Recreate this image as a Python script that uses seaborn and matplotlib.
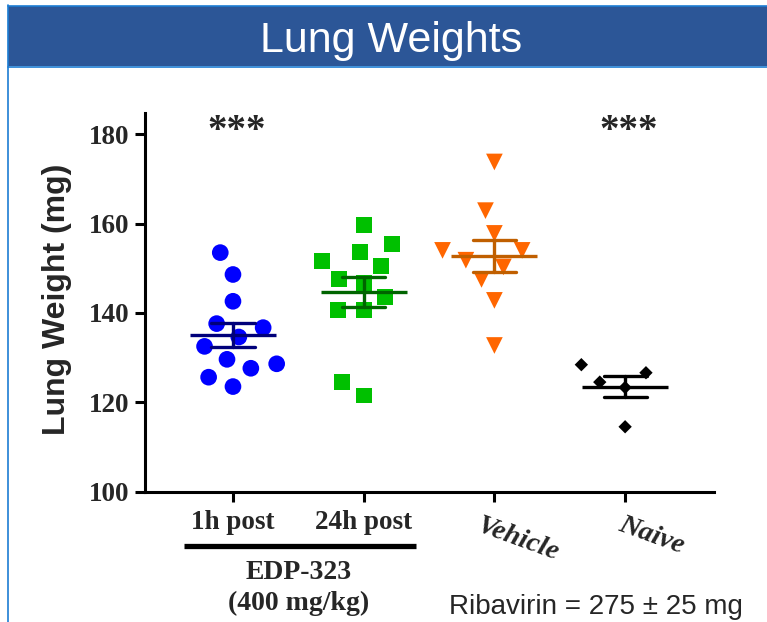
import matplotlib
matplotlib.use("Agg")
import matplotlib.pyplot as plt
from matplotlib.patches import Rectangle
from matplotlib.lines import Line2D
import numpy as np
import pandas as pd
import seaborn as sns

# ---------------- data ----------------
groups = ["1h post", "24h post", "Vehicle", "Naive"]
edp_1h = [153.5, 148.6, 142.6, 137.6, 136.7, 134.6, 132.5, 129.6, 128.6, 127.6, 125.6, 123.5]
edp_24h = [159.6, 155.5, 153.6, 151.6, 150.6, 147.5, 146.6, 143.5, 140.6, 140.6, 124.5, 121.5]
vehicle = [173.8, 162.9, 157.8, 154.0, 154.0, 151.8, 150.3, 147.5, 142.8, 132.7]
naive = [128.4, 126.6, 124.5, 123.3, 114.5]
yticks = [100, 120, 140, 160, 180]
title = "Lung Weights"
ylabel = "Lung Weight (mg)"
group_caption = ["EDP-323", "(400 mg/kg)"]
note = "Ribavirin = 275 \u00b1 25 mg"
signif = {"1h post": "***", "Naive": "***"}

values = [edp_1h, edp_24h, vehicle, naive]
df = pd.DataFrame({
    "group": np.repeat(groups, [len(v) for v in values]),
    "weight": np.concatenate(values),
})

point_colors = ["#0000FF", "#00C000", "#FF6600", "#000000"]
line_colors = ["#00007A", "#006400", "#C05F00", "#000000"]
markers = ["o", "s", "v", "D"]
sizes = [12, 11.5, 12, 6.8]
# invisible edge width: widens the swarm spacing without enlarging the marks
spread = [6, 6, 5.5, 11]

sns.set_theme(style="ticks")
plt.rcParams["font.family"] = ["Liberation Sans", "DejaVu Sans"]

W, H = 767, 622
fig = plt.figure(figsize=(W / 100, H / 100), dpi=100)
fig.patch.set_facecolor("white")

# banner
fig.add_artist(Rectangle((8 / W, (H - 66) / H), 1 - 8 / W, 60 / H,
                         transform=fig.transFigure, facecolor="#2C5697",
                         edgecolor="none", zorder=0))
border = "#1C7DD3"
fig.add_artist(Line2D([8 / W, 1], [1 - 5.5 / H, 1 - 5.5 / H], transform=fig.transFigure,
                      color=border, lw=1.2))
fig.add_artist(Line2D([8 / W, 1], [1 - 66.5 / H, 1 - 66.5 / H], transform=fig.transFigure,
                      color=border, lw=1.2))
fig.add_artist(Line2D([8 / W, 8 / W], [0, 1 - 5 / H], transform=fig.transFigure,
                      color=border, lw=1.2))
fig.text(391 / W, 1 - 41 / H, title, color="white", fontsize=31,
         family="Liberation Sans", ha="center", va="center")

ax = fig.add_axes([145 / W, (H - 491.5) / H, (714 - 145) / W, (491.5 - 113.3) / H])

for g, c, m, s, lw in zip(groups, point_colors, markers, sizes, spread):
    sns.swarmplot(data=df[df["group"] == g], x="group", y="weight", order=groups,
                  color=c, marker=m, size=s, linewidth=lw, edgecolor="none",
                  ax=ax, zorder=2)

sns.pointplot(data=df, x="group", y="weight", order=groups, hue="group",
              hue_order=groups, palette=line_colors, errorbar="se", capsize=0.33,
              marker="_", markersize=62, markeredgewidth=2.4, linestyle="none",
              err_kws={"linewidth": 2.4}, legend=False, ax=ax, zorder=3)

ax.set_xlim(-0.673, 3.68)
ax.set_ylim(100, 184.7)
ax.set_yticks(yticks)
ax.set_yticklabels([str(t) for t in yticks], family="Liberation Serif",
                   fontweight="bold", fontsize=19.5)
ax.set_xticks(range(len(groups)))
ax.set_xticklabels(["1h post", "24h post", "", ""], family="Liberation Serif",
                   fontweight="bold", fontsize=19.5)
for sp in ["top", "right"]:
    ax.spines[sp].set_visible(False)
for sp in ["left", "bottom"]:
    ax.spines[sp].set_linewidth(2.2)
    ax.spines[sp].set_color("black")
ax.tick_params(axis="both", length=7.5, width=2.2, color="black", direction="out")
ax.tick_params(axis="y", pad=3.5)
ax.tick_params(axis="x", pad=6)
ax.set_xlabel("")
ax.set_ylabel(ylabel, fontsize=23, fontweight="bold", family="Liberation Sans")
ax.yaxis.set_label_coords(-0.128, 0.509)

xt = ax.get_xaxis_transform()
# rotated italic labels
for i, off, yy in [(2, 0.18, -0.128), (3, 0.205, -0.117)]:
    ax.text(i + off, yy, groups[i], transform=xt, rotation=-20, ha="center",
            va="center", family="Liberation Serif", fontweight="bold",
            fontstyle="italic", fontsize=20.5, rotation_mode="anchor")

# bracket + caption
ax.plot([-0.375, 1.40], [-0.143, -0.143], transform=xt, color="black", lw=3.8,
        clip_on=False, solid_capstyle="butt")
ax.text(0.5, -0.213, group_caption[0], transform=xt, ha="center", va="center",
        family="Liberation Serif", fontweight="bold", fontsize=20)
ax.text(0.5, -0.297, group_caption[1], transform=xt, ha="center", va="center",
        family="Liberation Serif", fontweight="bold", fontsize=20)

for g, s in signif.items():
    ax.text(groups.index(g) + 0.03, 178.5, s, ha="center", va="baseline",
            family="Liberation Serif", fontweight="bold", fontsize=28)

fig.text(596 / W, (H - 607) / H, note, ha="center", va="center",
         family="Liberation Sans", fontsize=20)

fig.savefig("out.png", dpi=100, facecolor="white")
